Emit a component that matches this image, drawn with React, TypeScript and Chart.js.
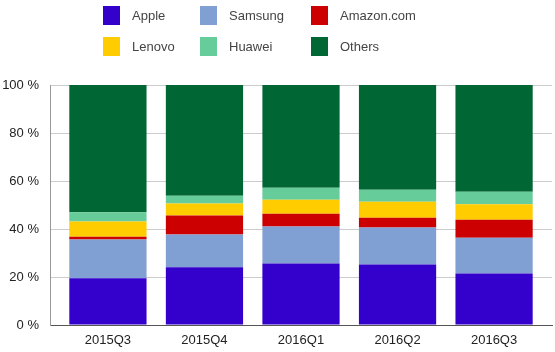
import React, { useEffect, useRef } from "react";
import { Chart, registerables } from "chart.js";

Chart.register(...registerables);

const categories = ["2015Q3", "2015Q4", "2016Q1", "2016Q2", "2016Q3"];
const seriesNames = ["Apple", "Samsung", "Amazon.com", "Lenovo", "Huawei", "Others"];
const apple = [19.5, 24.1, 25.6, 25.2, 21.5];
const samsung = [16.1, 13.6, 15.4, 15.4, 14.9];
const amazon = [1.2, 7.9, 5.4, 4.1, 7.5];
const lenovo = [6.3, 5.0, 5.8, 6.7, 6.4];
const huawei = [3.9, 3.3, 5.0, 5.0, 5.2];
const others = [53.0, 46.1, 42.8, 43.6, 44.5];
const yTicks = [0, 20, 40, 60, 80, 100];
const colors = ["#3300cc", "#809fd2", "#cc0000", "#ffcc00", "#66cc99", "#006633"];

const FONT = "'Liberation Sans', Arial, sans-serif";

const legendPlugin = {
  id: "gridLegend",
  afterDraw(chart: any) {
    const ctx = chart.ctx as CanvasRenderingContext2D;
    const colX = [103, 200, 311];
    const rowY = [6, 37];
    ctx.save();
    ctx.font = `13px ${FONT}`;
    ctx.textBaseline = "middle";
    ctx.textAlign = "left";
    seriesNames.forEach((name, i) => {
      const c = i % 3;
      const r = Math.floor(i / 3);
      ctx.fillStyle = colors[i];
      ctx.fillRect(colX[c], rowY[r], 17, 19);
      ctx.fillStyle = "#444444";
      ctx.fillText(name, colX[c] + 29, rowY[r] + 10);
    });
    ctx.restore();
  },
};

export default function App() {
  const canvasRef = useRef<HTMLCanvasElement | null>(null);

  useEffect(() => {
    if (!canvasRef.current) return;
    const series = [apple, samsung, amazon, lenovo, huawei, others];
    const chart = new Chart(canvasRef.current, {
      type: "bar",
      data: {
        datasets: series.map((vals, si) => ({
          label: seriesNames[si],
          data: vals.map((v, i) => ({ x: i, y: v })),
          backgroundColor: colors[si],
          borderWidth: 0,
          categoryPercentage: 1,
          barPercentage: 0.8,
        })),
      },
      options: {
        animation: false,
        responsive: true,
        maintainAspectRatio: false,
        layout: { padding: { top: 85, right: 3, left: 0, bottom: 0 } },
        plugins: {
          legend: { display: false },
          tooltip: { enabled: false },
        },
        scales: {
          x: {
            type: "linear",
            stacked: true,
            offset: false,
            min: -0.6,
            max: 4.6,
            afterBuildTicks: (axis: any) => {
              axis.ticks = categories.map((_, i) => ({ value: i }));
            },
            afterFit: (axis: any) => {
              axis.height = 27;
            },
            grid: { display: false, drawTicks: false, offset: false },
            border: { display: true, color: "#555555", width: 1 },
            ticks: {
              autoSkip: false,
              maxRotation: 0,
              padding: 8,
              color: "#222222",
              font: { family: FONT, size: 13 },
              callback: (v: any) => categories[Number(v)] ?? "",
            },
          },
          y: {
            stacked: true,
            min: 0,
            max: 100,
            afterBuildTicks: (axis: any) => {
              axis.ticks = yTicks.map((v) => ({ value: v }));
            },
            afterFit: (axis: any) => {
              axis.width = 50;
            },
            grid: { color: "#cccccc", drawTicks: false },
            border: { display: true, color: "#999999", width: 1 },
            ticks: {
              padding: 11,
              color: "#222222",
              font: { family: FONT, size: 13 },
              callback: (v: any) => `${v} %`,
            },
          },
        },
      },
      plugins: [legendPlugin],
    });
    return () => chart.destroy();
  }, []);

  return (
    <div style={{ position: "absolute", left: 0, top: 0, width: 555, height: 352 }}>
      <canvas ref={canvasRef} />
    </div>
  );
}
